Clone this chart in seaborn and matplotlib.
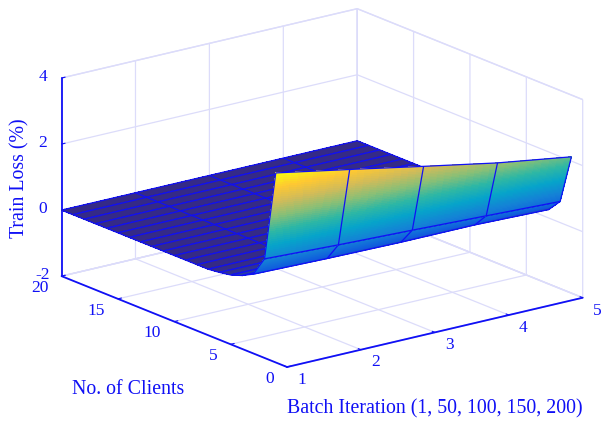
import numpy as np
import matplotlib
matplotlib.use("Agg")
import matplotlib.pyplot as plt
import seaborn as sns

# values
batch = [1, 2, 3, 4, 5]
clients = list(range(1, 21))
loss_c1 = [3.74, 3.32, 2.89, 2.47, 2.13]
loss_c2 = [1.00, 0.90, 0.82, 0.73, 0.64]
loss_c3 = [0.40, 0.35, 0.32, 0.32, 0.26]
loss_c4 = [0.22, 0.20, 0.18, 0.16, 0.14]
loss_c5 = [0.10, 0.09, 0.08, 0.07, 0.06]
loss_c6 = [0.04, 0.03, 0.03, 0.02, 0.02]
loss_rest = [0.0, 0.0, 0.0, 0.0, 0.0]

parula_hex = ["#352A87", "#0F5CDD", "#1481D6", "#06A4CA", "#2EB7A4",
              "#87BF77", "#D1BB59", "#FEC832", "#F9FB0E"]

x_ticks = [1, 2, 3, 4, 5]
y_ticks = [0, 5, 10, 15, 20]
z_ticks = [-2, 0, 2, 4]

BLUE = "#1010f5"
GRID = "#dcdcfa"

sns.set_style("white")
plt.rcParams["font.family"] = ["Liberation Serif", "DejaVu Serif"]
plt.rcParams["axes.unicode_minus"] = False

parula = sns.blend_palette(parula_hex, as_cmap=True)

loss = np.array([loss_c1, loss_c2, loss_c3, loss_c4, loss_c5, loss_c6]
                + [loss_rest] * (len(clients) - 6))
X, Y = np.meshgrid(batch, clients)

fig = plt.figure(figsize=(6.02, 4.22), dpi=100)
ax = fig.add_axes([(314 - 301) / 602, (226 - 301) / 422, 602 / 602, 602 / 422],
                  projection="3d", computed_zorder=False, proj_type="ortho")
ax.view_init(elev=17.9, azim=-127.33)
ax.set_box_aspect((1, 1, 0.56), zoom=0.912)
ax.set_xlim(1, 5, view_margin=0)
ax.set_ylim(0, 20, view_margin=0)
ax.set_zlim(-2, 4, view_margin=0)

# draw strips back to front, subdivided only for the smooth face shading
fine_x = np.linspace(batch[0], batch[-1], 41)
steps = np.linspace(0, 1, 41)
for k in range(len(clients) - 2, -1, -1):
    near = np.interp(fine_x, batch, loss[k])
    far = np.interp(fine_x, batch, loss[k + 1])
    fx, ft = np.meshgrid(fine_x, steps)
    fy = clients[k] + ft * (clients[k + 1] - clients[k])
    fz = near + ft * (far - near)
    z_order = 2 * (len(clients) - k)
    ax.plot_surface(fx, fy, fz, cmap=parula, vmin=0, vmax=3.74, rstride=1, cstride=1,
                    linewidth=0, antialiased=False, shade=False, zorder=z_order)
    ax.plot_wireframe(X[k:k + 2], Y[k:k + 2], loss[k:k + 2], rstride=1, cstride=1,
                      color=BLUE, linewidth=0.9, zorder=z_order + 1)

ax.set_xticks(x_ticks)
ax.set_yticks(y_ticks)
ax.set_zticks(z_ticks)
ax.tick_params(axis="both", colors=BLUE, labelsize=12.5, pad=2)
ax.tick_params(axis="z", pad=0)
for axis in (ax.xaxis, ax.yaxis, ax.zaxis):
    axis.set_pane_color((1, 1, 1, 1))
    axis.pane.set_edgecolor(GRID)
    axis.line.set_color(BLUE)
    axis.line.set_linewidth(1.3)
    axis._axinfo["grid"].update(color=GRID, linewidth=0.9)
    axis._axinfo["tick"].update(inward_factor=0.0, outward_factor=0.15)
ax.grid(True)
ax.zaxis.set_ticks_position("upper")
for label in ax.xaxis.get_ticklabels():
    label.set_ha("left")
    label.set_va("center")
for label in ax.yaxis.get_ticklabels():
    label.set_ha("right")
    label.set_va("center")
for label in ax.zaxis.get_ticklabels():
    label.set_va("center")

fig.text(435 / 602, 1 - 409 / 422, "Batch Iteration (1, 50, 100, 150, 200)", color=BLUE,
         fontsize=14.3, ha="center", va="center")
fig.text(128 / 602, 1 - 389 / 422, "No. of Clients", color=BLUE,
         fontsize=14.3, ha="center", va="center")
fig.text(20 / 602, 1 - 178 / 422, "Train Loss (%)", color=BLUE, rotation=90,
         fontsize=14.3, ha="center", va="center")

fig.savefig("out.png", dpi=100)
